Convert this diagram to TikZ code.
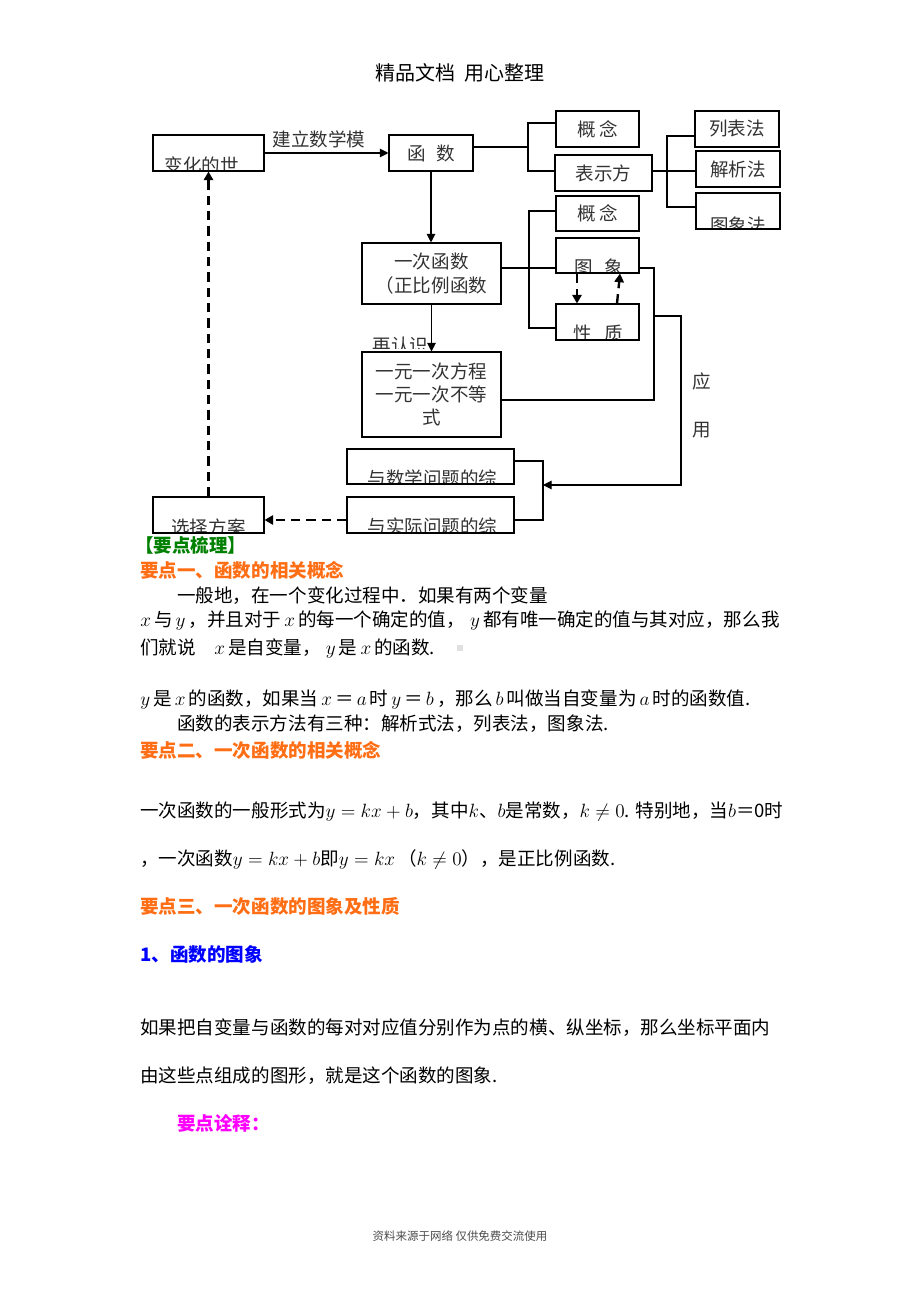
\documentclass[tikz,border=0pt]{standalone}
\usepackage{fontspec}
\setmainfont{Noto Sans CJK SC}
\usepackage{xcolor}
\usetikzlibrary{positioning,arrows.meta}
\definecolor{cHead}{RGB}{0,128,0}
\definecolor{cSec}{RGB}{255,110,20}
\definecolor{cSub}{RGB}{0,0,255}
\definecolor{cNote}{RGB}{255,0,255}
\tikzset{
   bx/.style 2 args={draw,line width=0.8pt,inner sep=0pt,text=black!80,align=center,
      minimum width=#1*0.75pt,minimum height=#2*0.75pt},
   cut/.style n args={3}{path picture={\node[inner sep=0pt,text=black!80]
      at ([xshift=#2,yshift=#3]path picture bounding box.center) {#1};}}}

\begin{document}
\begin{tikzpicture}[x=0.75pt,y=-0.75pt,
   font=\fontsize{13.9pt}{17.5pt}\selectfont,
   ln/.style={line width=0.8pt},
   arr/.style={line width=0.8pt,-{Triangle[length=6.5pt,width=6.5pt]}},
   darr/.style={line width=1.8pt,dash pattern=on 7pt off 4.5pt,-{Triangle[length=6.5pt,width=7pt]}},
   txt/.style={anchor=base west,inner sep=0pt},
   hd/.style={txt,font=\fontsize{13.9pt}{17.5pt}\selectfont\bfseries}]
  \fill[white] (0,0) rectangle (920,1302);
  \useasboundingbox (0,0) rectangle (920,1302);

  \node[font=\fontsize{15pt}{18pt}\selectfont] (top) at (460,73) {精品文档\hspace{0.45em}用心整理};

  \node[bx={111}{36},cut={变化的世}{-4.9pt}{-9pt}] (world) at (208.5,153) {};
  \node[bx={84}{36}] (fn) at (431,153) {函\hspace{0.55em}数};
  \node[bx={83}{36}] (c1) at (597.5,129) {概\hspace{0.2em}念};
  \node[bx={97}{36}] (rep) at (603.5,173) {表示方};
  \node[bx={84}{36}] (list) at (737,129) {列表法};
  \node[bx={84}{36}] (anal) at (738,169) {解析法};
  \node[bx={84}{36},cut={图象法}{0pt}{-10.5pt}] (graph) at (738,211) {};
  \node[bx={83}{35}] (c2) at (597.5,213.5) {概\hspace{0.2em}念};
  \node[bx={83}{35},cut={图\hspace{0.65em}象}{1pt}{-8.6pt}] (img) at (597.5,255.5) {};
  \node[bx={83}{36},cut={性\hspace{0.65em}质}{0.75pt}{-8.25pt}] (prop) at (597.5,322) {};
  \node[bx={139}{61}] (lin) at (431.5,273.5) {一次函数\\（正比例函数};
  \node[bx={139}{85}] (eq) at (431.5,394.5) {一元一次方程\\一元一次不等\\式};
  \node[bx={167}{35},cut={与数学问题的综}{1.5pt}{-8.6pt}] (math) at (430.5,466.5) {};
  \node[bx={167}{36},cut={与实际问题的综}{1.5pt}{-8.25pt}] (real) at (430.5,515) {};
  \node[bx={111}{36},cut={选择方案}{0pt}{-9pt}] (plan) at (208.5,515) {};

  \draw[arr] (world) -- node[pos=0.44,yshift=10.5pt,inner sep=0pt,text=black!80] (mdl) {建立数学模} (fn);
  \draw[arr] (fn.south) -- (fn.south |- lin.north);
  \draw[arr] (lin.south) -- (lin.south |- eq.north);
  \begin{scope}
    \clip (360,330) rectangle (440,348);
    \node[inner sep=0pt,text=black!80] (rk) at (400.5,345.5) {再认识};
  \end{scope}

  \coordinate (k1) at (528,147);
  \draw[ln] (fn.east |- k1) -- (k1);
  \draw[ln] (c1.west |- 0,123) -| (k1) |- (rep.west |- 0,171);
  \coordinate (k2) at (667,171);
  \draw[ln] (rep.east |- k2) -- (k2) -- (anal.west |- k2);
  \draw[ln] (list.west |- 0,136) -| (k2) |- (graph.west |- 0,207);
  \coordinate (k3) at (529,268);
  \draw[ln] (lin.east |- k3) -- (img.west |- k3);
  \draw[ln] (c2.west |- 0,211) -| (k3) |- (prop.west |- 0,328);
  \coordinate (k4) at (654,268);
  \coordinate (k5) at (654,400);
  \draw[ln] (img.east |- k4) -- (k4) -- (k5) -- (eq.east |- k5);
  \coordinate (k6) at (654,316);
  \coordinate (k7) at (681,316);
  \coordinate (k8) at (681,485);
  \coordinate (k9) at (543,485);
  \draw[arr] (k6) -- (k7) -- (k8) -- (k9);
  \draw[ln] (math.east |- 0,461) -| (k9) |- (real.east |- 0,520);
  \node[inner sep=0pt,text=black!80] (ying) at (702,381) {应};
  \node[inner sep=0pt,text=black!80] (yong) at (702,430) {用};

  \draw[darr] (img.south -| 577,0) -- (prop.north -| 577,0);
  \draw[darr] (prop.north -| 617,0) -- (img.south -| 620,0);
  \draw[darr] (real.west |- 0,520) -- (plan.east |- 0,520);
  \draw[darr] (plan.north) -- (world.south);

  \node[hd,text=cHead] (kp) at (135,552) {【要点梳理】};
  \node[hd,text=cSec] (s1) at (140,577) {要点一、函数的相关概念};
  \node[txt] (p1) at (177,602) {一般地，在一个变化过程中．如果有两个变量};
  \node[txt] (p2) at (140,626) {$x$\,与\,$y$\,，并且对于\,$x$\,的每一个确定的值，\;$y$\,都有唯一确定的值与其对应，那么我};
  \node[txt] (p3) at (140,654) {们就说\quad$x$\,是自变量，\;$y$\,是\,$x$\,的函数.};
  \node[fill=black!12,minimum size=4.5pt,inner sep=0pt] (sq) at (460,648) {};
  \node[txt] (p4) at (140,705) {$y$\,是\,$x$\,的函数，如果当\,$x$\,＝\,$a$\,时\,$y$\,＝\,$b$\,，那么\,$b$\,叫做当自变量为\,$a$\,时的函数值.};
  \node[txt] (p5) at (177,730) {函数的表示方法有三种：解析式法，列表法，图象法.};
  \node[hd,text=cSec] (s2) at (140,757) {要点二、一次函数的相关概念};
  \node[txt] (p6) at (140,817) {一次函数的一般形式为$y=kx+b$，其中$k$、$b$是常数，$k\neq0$. 特别地，当$b$＝0时};
  \node[txt] (p7) at (140,865) {，一次函数$y=kx+b$即$y=kx$\,（$k\neq0$），是正比例函数.};
  \node[hd,text=cSec] (s3) at (140,913) {要点三、一次函数的图象及性质};
  \node[hd,text=cSub] (s4) at (140,961) {1、函数的图象};
  \node[txt] (p8) at (140,1034) {如果把自变量与函数的每对对应值分别作为点的横、纵坐标，那么坐标平面内};
  \node[txt] (p9) at (140,1082) {由这些点组成的图形，就是这个函数的图象.};
  \node[hd,text=cNote] (note) at (177,1130) {要点诠释：};
  \node[font=\fontsize{8.6pt}{10pt}\selectfont,text=black!70] (foot) at (460,1236) {资料来源于网络 仅供免费交流使用};
\end{tikzpicture}
\end{document}
